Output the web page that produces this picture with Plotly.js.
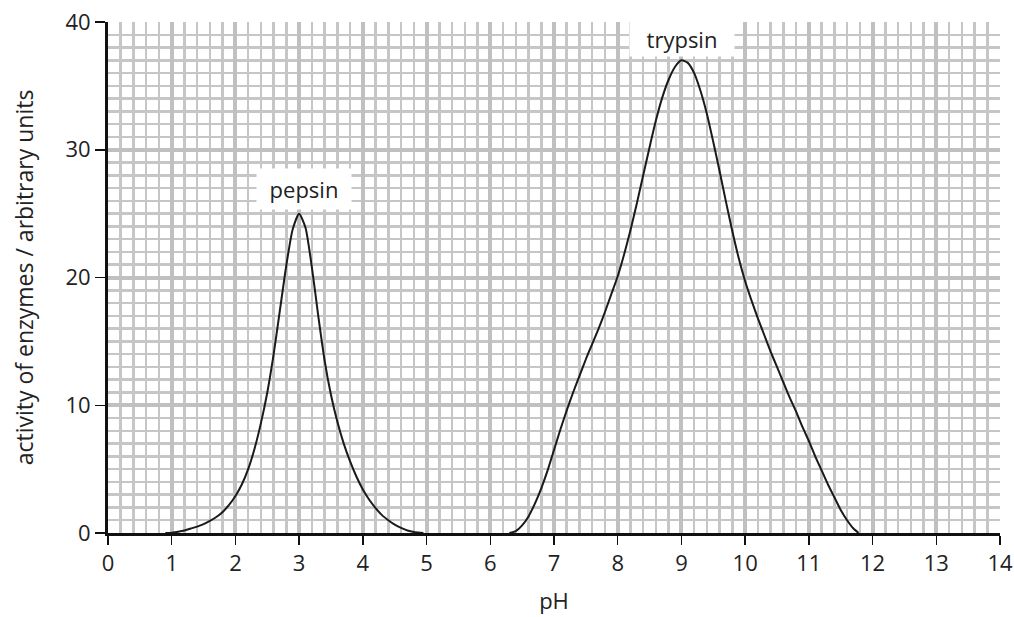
<!DOCTYPE html>
<html>
<head>
<meta charset="utf-8">
<script src="https://cdn.plot.ly/plotly-3.0.1.min.js"></script>
<style>html,body{margin:0;padding:0;background:#fff;}#chart{width:1014px;height:617px;}</style>
</head>
<body>
<div id="chart"></div>
<script>
// pH values and enzyme activity (arbitrary units)
const pepsinPH = [0.9, 1.0, 1.1, 1.2, 1.3, 1.4, 1.5, 1.6, 1.7, 1.8, 1.9, 2.0, 2.1, 2.2, 2.3, 2.4, 2.5, 2.6, 2.7, 2.8, 2.9, 3.0, 3.1, 3.2, 3.3, 3.4, 3.5, 3.6, 3.7, 3.8, 3.9, 4.0, 4.1, 4.2, 4.3, 4.4, 4.5, 4.6, 4.7, 4.8, 4.9, 4.95];
const pepsinActivity = [0, 0.03, 0.1, 0.2, 0.35, 0.5, 0.7, 0.95, 1.25, 1.65, 2.2, 2.9, 3.8, 5.0, 6.6, 8.6, 11.0, 14.0, 17.5, 21.0, 23.8, 25.0, 23.9, 20.8, 17.0, 13.5, 10.8, 8.7, 7.0, 5.6, 4.4, 3.4, 2.6, 1.95, 1.4, 1.0, 0.65, 0.4, 0.2, 0.08, 0.02, 0];

const trypsinPH = [6.3, 6.4, 6.5, 6.6, 6.7, 6.8, 6.9, 7.0, 7.1, 7.2, 7.3, 7.4, 7.5, 7.6, 7.7, 7.8, 7.9, 8.0, 8.1, 8.2, 8.3, 8.4, 8.5, 8.6, 8.7, 8.8, 8.9, 9.0, 9.1, 9.2, 9.3, 9.4, 9.5, 9.6, 9.7, 9.8, 9.9, 10.0, 10.1, 10.2, 10.3, 10.4, 10.5, 10.6, 10.7, 10.8, 10.9, 11.0, 11.1, 11.2, 11.3, 11.4, 11.5, 11.6, 11.7, 11.78];
const trypsinActivity = [0, 0.15, 0.6, 1.3, 2.3, 3.5, 4.9, 6.5, 8.1, 9.6, 11.0, 12.3, 13.6, 14.8, 16.0, 17.3, 18.7, 20.1, 21.8, 23.7, 25.8, 28.0, 30.2, 32.3, 34.1, 35.5, 36.5, 37.0, 36.8, 36.0, 34.6, 32.8, 30.6, 28.3, 25.9, 23.6, 21.5, 19.7, 18.2, 16.8, 15.5, 14.2, 13.0, 11.8, 10.6, 9.5, 8.3, 7.2, 6.0, 4.9, 3.8, 2.8, 1.8, 1.0, 0.35, 0];

const enzymeLabels = ["pepsin", "trypsin"];
const labelPH = [3.07, 9.01];
const labelActivity = [26.9, 38.7];

const xTicks = [0,1,2,3,4,5,6,7,8,9,10,11,12,13,14];
const yTicks = [0,10,20,30,40];

const FONT = "Open Sans, Noto Sans, sans-serif";
const lineStyle = {color: "#1a1a1a", width: 2, shape: "spline", smoothing: 0.6};

const traces = [
  {x: pepsinPH, y: pepsinActivity, mode: "lines", line: lineStyle, hoverinfo: "skip", showlegend: false},
  {x: trypsinPH, y: trypsinActivity, mode: "lines", line: lineStyle, hoverinfo: "skip", showlegend: false}
];

const annotations = enzymeLabels.map((t, i) => ({
  x: labelPH[i], y: labelActivity[i], xref: "x", yref: "y",
  text: t, showarrow: false, bgcolor: "#ffffff",
  width: i === 0 ? 92 : 102, height: i === 0 ? 38 : 32,
  font: {family: FONT, size: 22, color: "#222"}
}));

const layout = {
  width: 1014, height: 617,
  margin: {l: 108, r: 14, t: 22, b: 84},
  paper_bgcolor: "#fff", plot_bgcolor: "#fff",
  font: {family: FONT, size: 22, color: "#222"},
  xaxis: {
    range: [0, 14], tickvals: xTicks, ticktext: xTicks.map(String),
    showline: true, linecolor: "#111", linewidth: 3,
    ticks: "outside", ticklen: 9, tickwidth: 1.5, tickcolor: "#111",
    showgrid: true, gridcolor: "#c0c0c0", gridwidth: 4,
    minor: {dtick: 0.2, showgrid: true, gridcolor: "#c6c6c6", gridwidth: 2.5},
    zeroline: false, fixedrange: true,
    title: {text: "pH", font: {family: FONT, size: 22, color: "#222"}, standoff: 18},
    tickfont: {family: FONT, size: 22, color: "#222"}
  },
  yaxis: {
    range: [0, 40], tickvals: yTicks, ticktext: yTicks.map(String),
    showline: true, linecolor: "#111", linewidth: 3,
    ticks: "outside", ticklen: 10, tickwidth: 1.5, tickcolor: "#111",
    showgrid: true, gridcolor: "#c0c0c0", gridwidth: 4,
    minor: {dtick: 1, showgrid: true, gridcolor: "#c6c6c6", gridwidth: 2.5},
    zeroline: false, fixedrange: true,
    title: {text: "activity of enzymes / arbitrary units", font: {family: FONT, size: 23, color: "#222"}, standoff: 26},
    tickfont: {family: FONT, size: 22, color: "#222"}
  },
  annotations: annotations
};

Plotly.newPlot("chart", traces, layout, {staticPlot: true, displayModeBar: false});
</script>
</body>
</html>
